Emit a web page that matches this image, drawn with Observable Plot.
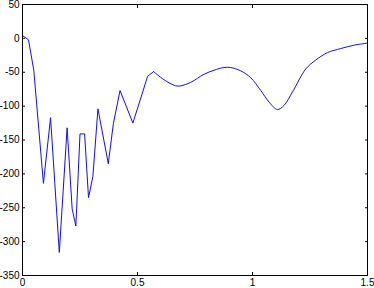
<!DOCTYPE html>
<html>
<head>
<meta charset="utf-8">
<script src="https://cdn.jsdelivr.net/npm/d3@7"></script>
<script src="https://cdn.jsdelivr.net/npm/@observablehq/plot@0.6"></script>
<style>
  html, body { margin: 0; padding: 0; background: #fff; }
  svg { overflow: visible; }
</style>
</head>
<body>
<div id="chart"></div>
<script>
const xs = [0, 0.026, 0.049, 0.091, 0.122, 0.160, 0.194, 0.216, 0.232, 0.250, 0.270, 0.287, 0.306, 0.328, 0.373, 0.395, 0.424, 0.480, 0.544, 0.570, 0.615, 0.666, 0.688, 0.731, 0.789, 0.833, 0.876, 0.905, 0.949, 0.992, 1.036, 1.072, 1.108, 1.137, 1.174, 1.232, 1.275, 1.326, 1.384, 1.442, 1.500];
const ys = [4, -2, -47, -214, -117, -316, -132, -252, -277, -141, -141, -235, -204, -104, -185, -126, -77, -125, -56, -49, -61, -70, -70, -65, -53, -47, -43, -43, -48, -58, -77, -94, -105, -99, -79, -45, -32, -21, -15, -10, -7];
const xTicks = [0, 0.5, 1, 1.5];
const xTickLabels = ["0", "0.5", "1", "1.5"];
const yTicks = [-350, -300, -250, -200, -150, -100, -50, 0, 50];
const smoothFrom = 0.57;

const data = xs.map((x, i) => ({x, y: ys[i]}));
const rough = data.filter(d => d.x <= smoothFrom);
const smooth = data.filter(d => d.x >= smoothFrom);

const chart = Plot.plot({
  width: 374,
  height: 288,
  marginLeft: 22,
  marginRight: 7,
  marginTop: 4,
  marginBottom: 13,
  style: {fontFamily: "Liberation Sans, Arial, sans-serif", fontSize: "10px", color: "black", background: "white", overflow: "visible"},
  x: {domain: [0, 1.5]},
  y: {domain: [-350, 50]},
  marks: [
    Plot.line(rough, {x: "x", y: "y", stroke: "#1010e0", strokeWidth: 1}),
    Plot.line(smooth, {x: "x", y: "y", stroke: "#1010e0", strokeWidth: 1, curve: "catmull-rom"}),
    Plot.axisX({ticks: xTicks, tickFormat: (d) => xTickLabels[xTicks.indexOf(d)], tickSize: 0, tickPadding: 3, label: null}),
    Plot.axisX({ticks: xTicks, tickSize: -3, text: null, label: null}),
    Plot.axisX({anchor: "top", ticks: xTicks, tickSize: -3, text: null, label: null}),
    Plot.axisY({ticks: yTicks, tickFormat: d => String(d), tickSize: 0, tickPadding: 3, label: null}),
    Plot.axisY({ticks: yTicks, tickSize: -3, text: null, label: null}),
    Plot.axisY({anchor: "right", ticks: yTicks, tickSize: -3, text: null, label: null}),
    Plot.frame({stroke: "black", strokeWidth: 1})
  ]
});
document.getElementById("chart").appendChild(chart);
</script>
</body>
</html>
